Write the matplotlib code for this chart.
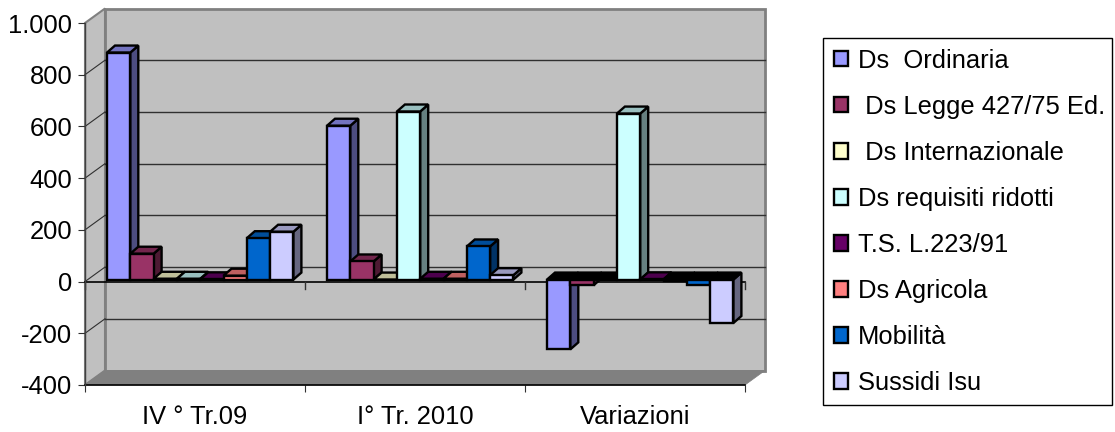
import matplotlib
matplotlib.use("Agg")
import matplotlib.pyplot as plt
from matplotlib.colors import to_rgb
from matplotlib.patches import Patch, Rectangle

plt.rcParams['font.family'] = ['Liberation Sans', 'DejaVu Sans']

groups = ['IV ° Tr.09', 'I° Tr. 2010', 'Variazioni']
series = ['Ds  Ordinaria', ' Ds Legge 427/75 Ed.', ' Ds Internazionale',
          'Ds requisiti ridotti', 'T.S. L.223/91', 'Ds Agricola',
          'Mobilità', 'Sussidi Isu']
colors = ['#9999FF', '#993366', '#FFFFCC', '#CCFFFF',
          '#660066', '#FF8080', '#0066CC', '#CCCCFF']

ordinaria = [878, 595, -270]
legge = [100, 70, -22]
internazionale = [3, 0, -3]
requisiti = [3, 650, 642]
ts = [1, 3, 1]
agricola = [15, 3, -4]
mobilita = [160, 128, -22]
sussidi = [185, 17, -168]
values = [ordinaria, legge, internazionale, requisiti, ts, agricola, mobilita, sussidi]

yticks = [-400, -200, 0, 200, 400, 600, 800, 1000]
ylabels = ['-400', '-200', '0', '200', '400', '600', '800', '1.000']

# one category is 220 px wide, one px on y is 1/0.2586 units
wall_dx = 20 / 220
wall_dy = 14.5 / 0.2586
bar_x0 = 22 / 220
bar_w = 23.3 / 220
bar_dx = 8 / 220
bar_dy = 7 / 0.2586
bar_base = 2 / 0.2586


def shade(c, f):
    return tuple(v * f for v in to_rgb(c))


fig = plt.figure(figsize=(11.15, 4.32), dpi=100)
ax = fig.add_axes([85 / 1115, 47 / 432, 660 / 1115, 362 / 432])
ax.set_xlim(0, 3)
ax.set_ylim(-400, 1000)
ax.patch.set_alpha(0)
for s in ax.spines.values():
    s.set_visible(False)

# walls and floor
ax.fill([0, wall_dx, wall_dx, 0], [-400, -400 + wall_dy, 1000 + wall_dy, 1000],
        fc='#c0c0c0', ec='#808080', lw=1.5, clip_on=False, zorder=1)
ax.fill([wall_dx, 3 + wall_dx, 3 + wall_dx, wall_dx],
        [-400 + wall_dy, -400 + wall_dy, 1000 + wall_dy, 1000 + wall_dy],
        fc='#c0c0c0', ec='#808080', lw=2, clip_on=False, zorder=1)
ax.fill([0, 3, 3 + wall_dx, wall_dx],
        [-400, -400, -400 + wall_dy, -400 + wall_dy],
        fc='#808080', ec='#808080', lw=0.5, clip_on=False, zorder=2)

# gridlines on the back wall and the side wall
for t in yticks[1:-1]:
    ax.plot([wall_dx, 3 + wall_dx], [t + wall_dy, t + wall_dy], color='#303030',
            lw=1, clip_on=False, zorder=2)
    ax.plot([0, wall_dx], [t, t + wall_dy], color='#303030', lw=0.8,
            clip_on=False, zorder=2)

# bars, left to right so each front covers the side of the one before
z = 3
for g in range(len(groups)):
    for i, col in enumerate(colors):
        v = values[i][g]
        x0 = g + bar_x0 + i * bar_w
        x1 = x0 + bar_w
        lo = min(bar_base, bar_base + v)
        hi = max(bar_base, bar_base + v)
        top_col = 'black' if v < 0 else shade(col, 0.75)
        ax.fill([x1, x1 + bar_dx, x1 + bar_dx, x1],
                [lo, lo + bar_dy, hi + bar_dy, hi],
                fc=shade(col, 0.5), ec='black', lw=1.7, clip_on=False, zorder=z)
        ax.fill([x0, x1, x1 + bar_dx, x0 + bar_dx],
                [hi, hi, hi + bar_dy, hi + bar_dy],
                fc=top_col, ec='black', lw=1.7, clip_on=False, zorder=z)
        ax.bar(x0, hi - lo, bar_w, bottom=lo, align='edge', color=col,
               edgecolor='black', lw=1.7, clip_on=False, zorder=z + 0.5)
        z += 1

# zero axis with its ticks
ax.plot([0, 3], [0, 0], color='black', lw=1.2, clip_on=False, zorder=2.5)
for t in range(4):
    ax.plot([t, t], [0, -28], color='#303030', lw=1, clip_on=False, zorder=2.5)
ax.plot([0, 3], [-400, -400], color='black', lw=1.2, clip_on=False, zorder=2.5)
ax.plot([0, 0], [-400, 1000], color='#404040', lw=1, clip_on=False, zorder=2.5)

ax.set_yticks(yticks, ylabels)
ax.set_xticks([0, 1, 2, 3], ['', '', '', ''])
ax.set_xticks([0.5, 1.5, 2.5], groups, minor=True)
ax.tick_params(axis='y', length=5, width=0.8, color='#303030', pad=4, labelsize=18.4)
ax.tick_params(axis='x', which='major', length=5, width=0.8, color='#303030')
ax.tick_params(axis='x', which='minor', length=0, pad=14.5, labelsize=18.4)

# legend box drawn apart, the legend's own frame would be too wide
fig.add_artist(Rectangle((823 / 1115, 27 / 432), 289 / 1115, 367 / 432,
                         transform=fig.transFigure, fc='white', ec='black', lw=1, zorder=1))
handles = [Patch(fc=c, ec='black', lw=1.7) for c in colors]
fig.legend(handles, series, loc='upper left', bbox_to_anchor=(823 / 1115, 1 - 38 / 432),
           bbox_transform=fig.transFigure, borderaxespad=0, fontsize=18.4,
           frameon=False, handlelength=0.55, handleheight=0.55, handletextpad=0.4,
           labelspacing=0.863, borderpad=0.42)

fig.savefig('out.png', dpi=100)
